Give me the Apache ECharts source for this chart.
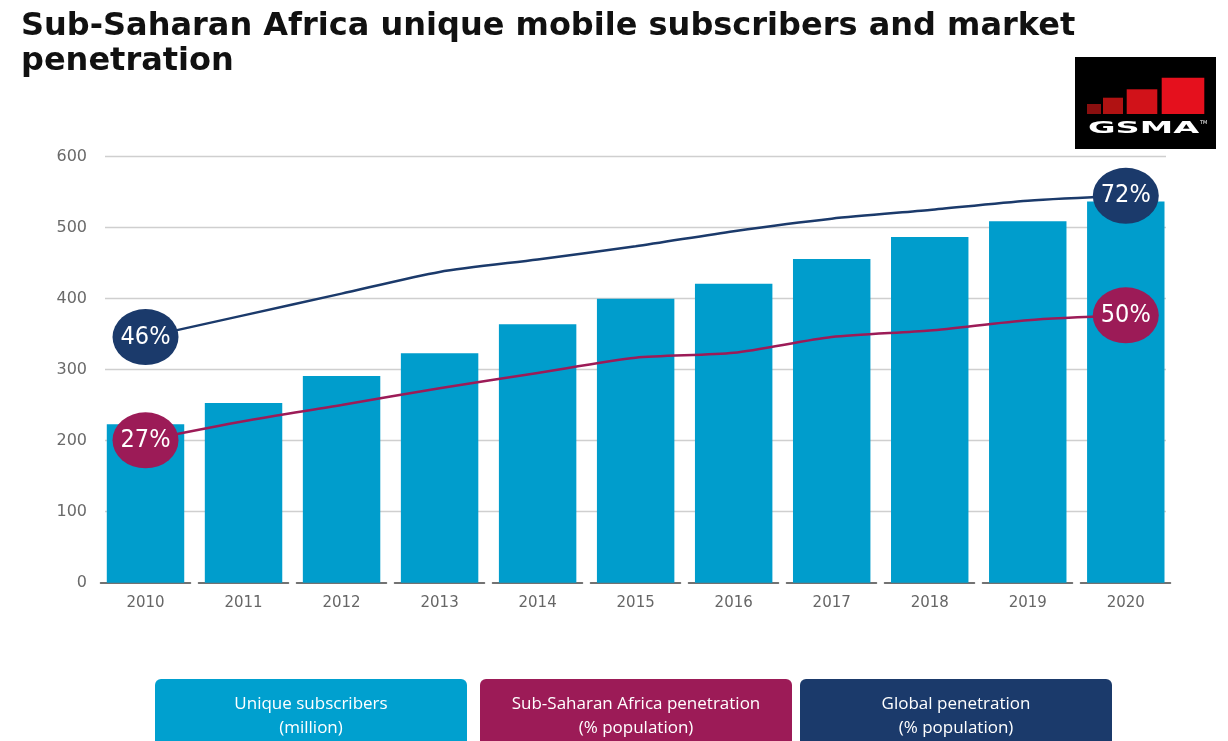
<!DOCTYPE html>
<html>
<head>
<meta charset="utf-8">
<script src="https://cdn.jsdelivr.net/npm/echarts@6/dist/echarts.min.js"></script>
<style>
html,body{margin:0;padding:0;background:#fff;}
#chart{width:1228px;height:741px;}
</style>
</head>
<body>
<div id="chart"></div>
<script>
const years = ['2010','2011','2012','2013','2014','2015','2016','2017','2018','2019','2020'];
const subscribers = [223, 253, 291, 323, 364, 400, 421, 456, 487, 509, 537];
const ssaPenetration = [27, 30.5, 33.5, 36.6, 39.4, 42.2, 43.1, 46, 47.2, 49.1, 50];
const globalPenetration = [46, 50, 54, 58, 60.3, 62.7, 65.5, 67.8, 69.4, 71.1, 72];
const yTicks = [0, 100, 200, 300, 400, 500, 600];

const titleText = 'Sub-Saharan Africa unique mobile subscribers and market\npenetration';
const legendItems = [
  {text: 'Unique subscribers\n(million)', color: '#00a0cf'},
  {text: 'Sub-Saharan Africa penetration\n(% population)', color: '#9c1b57'},
  {text: 'Global penetration\n(% population)', color: '#1b3a6b'}
];

const chart = echarts.init(document.getElementById('chart'));
const n = years.length;
const isEnd = (i) => i === 0 || i === n - 1;

function lineSeries(name, data, color) {
  return {
    name: name,
    type: 'line',
    xAxisIndex: 1,
    yAxisIndex: 2,
    data: data,
    smooth: 0.25,
    z: 5,
    lineStyle: {color: color, width: 2.5},
    itemStyle: {color: color},
    symbol: 'circle',
    showSymbol: true,
    showAllSymbol: true,
    symbolSize: (v, p) => isEnd(p.dataIndex) ? [66, 56] : 0,
    label: {
      show: true,
      position: 'inside',
      formatter: (p) => isEnd(p.dataIndex) ? p.value + '%' : '',
      color: '#ffffff',
      fontFamily: '"Liberation Sans Narrow", "DejaVu Sans Condensed", "Roboto Condensed", "Noto Sans", sans-serif',
      fontSize: 25
    },
    emphasis: {disabled: true},
    silent: true
  };
}

const gridTop = 156.7, gridBottom = 741 - 582.7;
const splitColors = yTicks.map((t, i) => i === 0 ? 'rgba(0,0,0,0)' : '#cfcfcf');

const graphics = [];
const boxX = [155, 480, 800];
legendItems.forEach((it, i) => {
  graphics.push({
    type: 'rect', left: boxX[i], top: 679,
    shape: {width: 312, height: 80, r: 6},
    style: {fill: it.color}, silent: true
  });
  graphics.push({
    type: 'text', x: boxX[i] + 156, y: 716,
    style: {
      text: it.text, fill: '#ffffff', font: '17px "Open Sans"',
      textAlign: 'center', textVerticalAlign: 'middle', lineHeight: 24
    }, silent: true
  });
});
// GSMA logo
graphics.push({type: 'rect', shape: {x: 1075, y: 57, width: 141, height: 92}, style: {fill: '#000'}, silent: true});
const sq = [[1087, 104, 14, '#8a0f0f'], [1103, 97.7, 20, '#b01212'], [1126.7, 89.3, 30.6, '#d11219'], [1161.7, 77.7, 42.6, '#e5101d']];
sq.forEach(s => graphics.push({type: 'rect', shape: {x: s[0], y: s[1], width: s[2], height: 114 - s[1]}, style: {fill: s[3]}, silent: true}));
graphics.push({
  type: 'text', x: 1088, y: 129, scaleX: 2.1, scaleY: 1, originX: 0, originY: 0,
  style: {text: 'GSMA', fill: '#ffffff', font: 'bold 16px "DejaVu Sans"', textVerticalAlign: 'middle'}, silent: true
});
graphics.push({
  type: 'text', x: 1200, y: 123,
  style: {text: 'TM', fill: '#ffffff', font: '5px "DejaVu Sans"', textVerticalAlign: 'middle'}, silent: true
});

const option = {
  animation: false,
  backgroundColor: '#ffffff',
  title: {
    text: titleText, left: 16, top: 4,
    textStyle: {fontFamily: 'DejaVu Sans', fontWeight: 'bold', fontSize: 32, lineHeight: 35, color: '#111111'}
  },
  grid: [
    {left: 105, right: 1228 - 1166, top: gridTop, bottom: gridBottom},
    {left: 96.5, right: 1228 - 1174.8, top: gridTop, bottom: gridBottom}
  ],
  xAxis: [
    {type: 'category', gridIndex: 0, data: years, show: false},
    {
      type: 'category', gridIndex: 1, data: years,
      axisTick: {show: false},
      axisLine: {show: true, lineStyle: {color: '#444444', width: 1.5, type: [90, 8], dashOffset: 94}},
      axisLabel: {fontFamily: 'DejaVu Sans', fontSize: 15, color: '#666666', margin: 13}
    }
  ],
  yAxis: [
    {
      type: 'value', gridIndex: 0, min: yTicks[0], max: yTicks[yTicks.length - 1], interval: 100,
      axisLine: {show: false}, axisTick: {show: false},
      axisLabel: {fontFamily: 'DejaVu Sans', fontSize: 16, color: '#6a6a6a', margin: 18},
      splitLine: {show: true, lineStyle: {color: splitColors, width: 1.3}}
    },
    {type: 'value', gridIndex: 1, min: yTicks[0], max: yTicks[yTicks.length - 1], show: false, splitLine: {show: false}},
    {type: 'value', gridIndex: 1, min: 0.8, max: 79.2, show: false, splitLine: {show: false}}
  ],
  series: [
    {
      name: 'Unique subscribers', type: 'bar', xAxisIndex: 1, yAxisIndex: 1,
      data: subscribers, barCategoryGap: '21%', z: 2,
      itemStyle: {color: '#009dcc'}, silent: true
    },
    lineSeries('Sub-Saharan Africa penetration', ssaPenetration, '#9c1b57'),
    lineSeries('Global penetration', globalPenetration, '#1b3a6b')
  ],
  graphic: graphics
};
chart.setOption(option);
</script>
</body>
</html>
